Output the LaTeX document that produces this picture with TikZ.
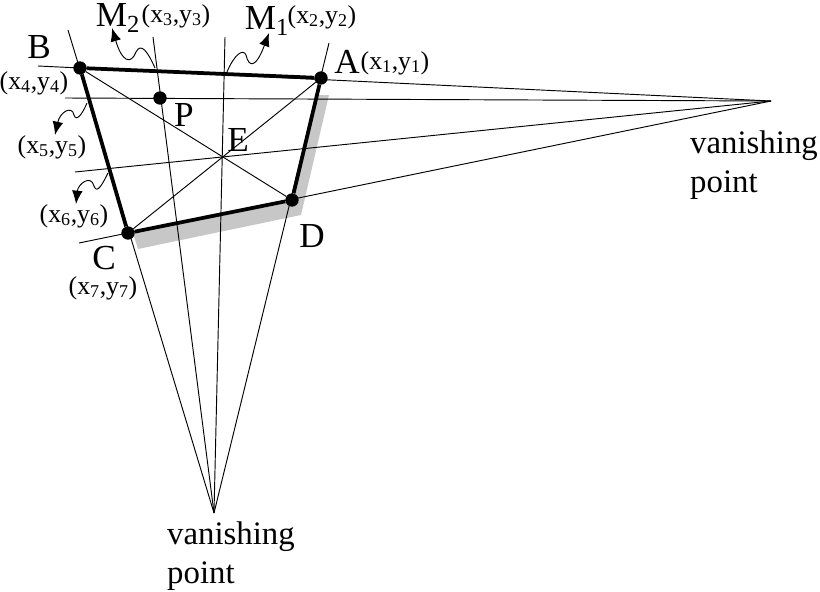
\documentclass[tikz,border=0pt]{standalone}
\usepackage{fontspec}
\setmainfont{Liberation Serif}
\usetikzlibrary{arrows.meta}
\tikzset{>=latex}
\colorlet{shadowcol}{black!22}
\newcommand{\bigfont}{\fontsize{30}{30}\selectfont}
\newcommand{\smallfont}{\fontsize{22}{22}\selectfont}
\newcommand{\xyp}[1]{(x\textsubscript{#1},y\textsubscript{#1})}
\tikzset{corner/.style = {shape=circle,fill=black,inner sep=0pt,minimum size=0.4cm}}
\tikzset{thinline/.style = {line width=0.8pt}}
\tikzset{edgeline/.style = {line width=3.2pt}}
\tikzset{wavy/.style = {line width=0.8pt,->,>={Latex[length=4mm,width=3.2mm]}}}
\tikzset{biglabel/.style = {inner sep=0pt,font=\bigfont}}
\tikzset{coordlabel/.style = {inner sep=0pt,font=\smallfont}}
\tikzset{vplabel/.style = {inner sep=0pt,align=left,font=\fontsize{28}{33}\selectfont}}

\begin{document}
\begin{tikzpicture}[x=0.03cm,y=-0.03cm]
                    \useasboundingbox (0,0) rectangle (820,591);
                    % shadow
                    \fill[shadowcol] (133,233) -- (138,249) -- (301,215) -- (329,95) -- (317,95) -- (292,200) -- cycle;

                    \node[corner] (A) at (321,78) {};
                    \node[corner] (B) at (80,68) {};
                    \node[corner] (C) at (128,233) {};
                    \node[corner] (D) at (292,200) {};
                    \node[corner] (P) at (160,98) {};

                    \coordinate (E) at (222,156);
                    \coordinate (vpright) at (771,101);
                    \coordinate (vpdown) at (214,513);

                    \coordinate (h1) at (38,66);
                    \coordinate (h2) at (65,98);
                    \coordinate (h3) at (75,172);
                    \coordinate (h4) at (79,243);
                    \coordinate (v1) at (329,43);
                    \coordinate (v2) at (225,37);
                    \coordinate (v3) at (153,37);
                    \coordinate (v4) at (68,30);

                    % lines to the vanishing points
                    \draw[thinline] (h1) -- (vpright);
                    \draw[thinline] (h2) -- (vpright);
                    \draw[thinline] (h3) -- (vpright);
                    \draw[thinline] (h4) -- (vpright);
                    \draw[thinline] (v1) -- (vpdown);
                    \draw[thinline] (v2) -- (vpdown);
                    \draw[thinline] (v3) -- (vpdown);
                    \draw[thinline] (v4) -- (vpdown);

                    \draw[thinline] (B) -- (D);
                    \draw[thinline] (A) -- (C);

                    \draw[edgeline] (B) -- (A);
                    \draw[edgeline] (A) -- (D);
                    \draw[edgeline] (D) -- (C);
                    \draw[edgeline] (C) -- (B);

                    % labels
                    \node[biglabel] (labA) at (347,62) {A};
                    \node[biglabel] (labB) at (39,47) {B};
                    \node[biglabel] (labC) at (104,258) {C};
                    \node[biglabel] (labD) at (312,236) {D};
                    \node[biglabel] (labP) at (184,115) {P};
                    \node[biglabel] (labE) at (238,140) {E};
                    \node[biglabel] (labM2) at (118,18) {M\textsubscript{2}};
                    \node[biglabel] (labM1) at (267,21) {M\textsubscript{1}};

                    \node[coordlabel] (p1) at (395,63) {\xyp{1}};
                    \node[coordlabel] (p2) at (322,17) {\xyp{2}};
                    \node[coordlabel] (p3) at (176,16) {\xyp{3}};
                    \node[coordlabel] (p4) at (34,83) {\xyp{4}};
                    \node[coordlabel] (p5) at (52,147) {\xyp{5}};
                    \node[coordlabel] (p6) at (74,216) {\xyp{6}};
                    \node[coordlabel] (p7) at (103,288) {\xyp{7}};

                    \node[vplabel] (vpr) at (754,165) {vanishing\\point};
                    \node[vplabel] (vpd) at (231,556) {vanishing\\point};

                    % wavy pointers
                    \coordinate (w1) at (227,72);
                    \coordinate (w1end) at (269,33);
                    \coordinate (w2) at (155,68);
                    \coordinate (w2end) at (112,28);
                    \coordinate (w5) at (87,103);
                    \coordinate (w5end) at (55,135);
                    \coordinate (w6) at (108,173);
                    \coordinate (w6end) at (76,204);
                    \draw[wavy] (w1) .. controls (234,55) and (243,48) .. (246,55) .. controls (249,68) and (256,68) .. (w1end);
                    \draw[wavy] (w2) .. controls (148,52) and (141,42) .. (136,52) .. controls (131,65) and (122,62) .. (w2end);
                    \draw[wavy] (w5) .. controls (82,115) and (76,122) .. (74,115) .. controls (72,105) and (60,112) .. (w5end);
                    \draw[wavy] (w6) .. controls (103,183) and (97,195) .. (94,186) .. controls (91,174) and (78,184) .. (w6end);
                \end{tikzpicture}
\end{document}
